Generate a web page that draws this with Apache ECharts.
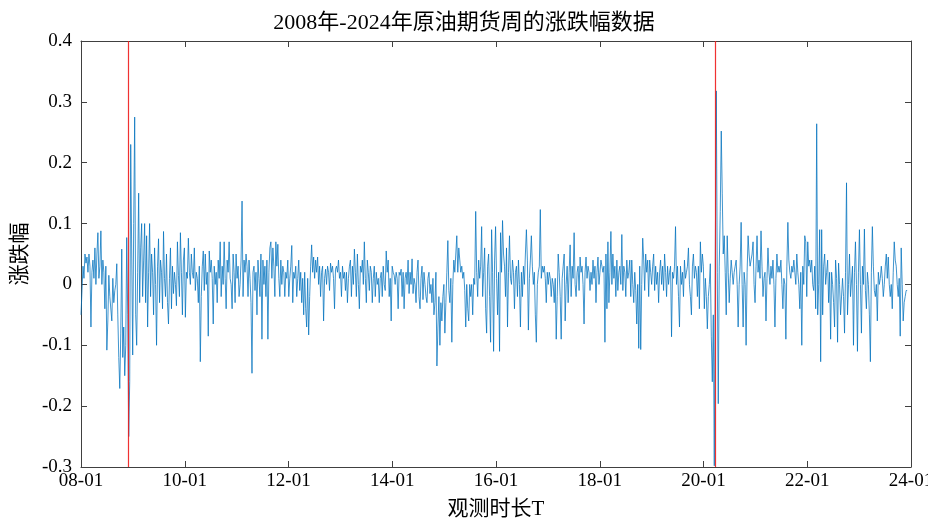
<!DOCTYPE html>
<html><head><meta charset="utf-8">
<script src="https://cdn.jsdelivr.net/npm/echarts@6/dist/echarts.min.js"></script>
<style>html,body{margin:0;padding:0;background:#fff}#c{width:928px;height:518px}</style>
</head><body><div id="c"></div>
<script>
const titleText = '2008年-2024年原油期货周的涨跌幅数据';
const xName = '观测时长T';
const yName = '涨跌幅';
const startYear = 2008;           // first weekly observation (start of 2008)
const weekInYears = 7 / 365.25;   // weekly sampling step
const breakYears = [2008.925, 2020.222];  // red vertical break lines
const xTickLabels = ['08-01','10-01','12-01','14-01','16-01','18-01','20-01','22-01','24-01'];
const yTickValues = [-0.3,-0.2,-0.1,0,0.1,0.2,0.3,0.4];

const weeklyChange = [
-0.05,-0.01,0.03,0.01,0.05,0.035,0.045,0.02,0.05,0.03,
-0.07,0.02,0.04,0.01,0.06,0.0,0.05,0.085,0.01,0.03,
0.088,0.0,0.04,0.02,-0.04,0.03,-0.108,-0.06,0.015,-0.02,
-0.02,-0.06,0.01,-0.03,-0.01,0.0,0.034,-0.05,-0.12,-0.171,
-0.08,0.058,-0.12,-0.07,-0.15,-0.1,0.077,-0.05,-0.25,-0.16,
0.23,0.05,-0.116,0.1,0.275,-0.05,-0.1,0.02,0.15,-0.03,
0.06,0.1,-0.02,0.04,0.1,-0.03,0.08,-0.07,0.02,0.1,
-0.02,0.05,0.02,-0.05,0.06,0.0,-0.1,0.03,0.075,-0.03,
0.04,0.02,-0.04,0.087,0.01,-0.02,0.05,-0.03,-0.065,0.01,
0.06,-0.04,0.03,-0.015,0.02,0.0,-0.035,0.07,0.015,-0.02,
0.085,0.02,-0.05,0.04,0.06,-0.054,0.02,0.01,0.076,0.02,
0.0,0.05,0.02,0.01,0.06,-0.01,0.02,0.01,-0.03,0.03,
-0.127,-0.02,0.03,0.055,-0.01,0.05,0.0,0.02,-0.085,0.055,
0.02,0.04,0.01,-0.065,0.03,0.0,0.02,-0.03,0.04,0.01,
0.07,-0.02,0.03,0.0,0.07,0.01,-0.04,0.04,0.02,0.07,0.01,
0.0,-0.04,0.05,0.02,-0.03,0.05,0.01,0.03,-0.02,0.0,
0.04,0.137,-0.02,0.04,0.02,0.05,0.03,-0.02,0.04,0.01,
-0.03,-0.146,0.02,0.03,-0.01,0.02,-0.05,0.04,0.01,-0.02,
0.05,-0.09,0.04,0.0,0.03,-0.02,0.04,-0.09,0.02,0.06,
0.07,0.01,0.06,0.03,-0.02,0.07,0.03,0.066,0.01,-0.02,
0.04,0.0,0.03,0.02,-0.02,0.02,0.01,0.04,-0.02,0.01,
0.03,0.064,-0.03,0.02,0.01,0.03,-0.02,0.01,0.04,-0.01,
0.02,-0.03,0.01,-0.05,0.02,-0.04,-0.07,0.01,-0.083,-0.02,
0.03,0.065,0.02,0.045,0.01,0.04,0.02,0.045,0.0,0.03,
-0.02,0.02,0.03,-0.06,0.01,0.025,0.0,0.03,0.02,-0.01,
0.035,0.02,0.03,0.01,-0.04,0.025,0.03,0.02,0.04,0.01,
0.02,-0.02,0.03,0.01,0.02,-0.01,0.02,-0.03,0.01,0.03,
0.04,-0.02,0.03,0.0,0.058,0.02,-0.02,0.05,0.0,-0.04,
0.03,0.02,0.04,0.0,0.07,0.01,-0.03,0.04,0.02,-0.01,
0.03,0.02,-0.03,0.01,0.03,-0.02,0.02,0.0,0.01,-0.03,
0.01,0.02,-0.02,0.03,0.0,-0.01,0.055,0.02,0.04,-0.02,0.01,
-0.06,0.03,0.02,0.015,0.0,0.02,0.01,-0.04,0.02,0.015,
0.025,-0.02,0.02,-0.04,0.01,0.02,0.0,0.04,-0.015,0.02,
0.0,0.042,-0.015,0.01,0.0,-0.03,0.02,0.04,-0.02,-0.04,
0.01,0.03,-0.025,0.02,0.0,-0.02,-0.03,0.01,0.02,-0.015,
0.0,-0.03,0.01,-0.05,-0.03,0.02,-0.134,-0.07,-0.02,-0.1,
-0.03,-0.06,-0.02,0.0,-0.08,-0.03,0.02,0.072,-0.01,-0.03,
0.01,-0.095,0.0,0.04,0.02,0.05,0.08,0.02,0.06,0.04,
0.02,0.03,0.01,0.02,-0.01,-0.07,0.0,-0.04,-0.06,0.0,
-0.02,0.0,-0.05,0.01,0.0,0.12,0.02,-0.02,0.04,0.01,
0.03,0.095,-0.02,0.02,0.06,-0.04,-0.08,0.03,0.05,-0.02,
-0.095,0.09,0.02,-0.11,0.04,0.095,0.01,-0.05,0.02,-0.11,
0.085,0.02,0.105,0.05,0.03,-0.02,0.06,-0.07,0.02,0.08,
0.01,0.0,0.04,0.02,-0.04,0.02,0.03,-0.02,0.04,0.0,
-0.07,0.02,-0.02,0.03,0.0,0.05,0.09,0.04,-0.075,0.01,
0.04,0.08,0.03,0.0,0.02,-0.05,-0.095,0.0,0.02,0.03,
0.123,0.01,0.03,0.02,0.03,0.01,-0.03,0.02,0.0,0.02,0.01,
-0.02,0.01,0.0,-0.03,0.01,-0.09,-0.02,0.05,0.02,-0.02,
-0.09,0.01,0.03,0.05,-0.06,0.0,0.03,-0.03,0.02,0.065,
-0.02,0.03,0.01,0.085,0.0,-0.02,0.02,0.03,-0.01,0.045,
0.02,0.03,0.0,-0.065,0.02,0.045,0.01,0.03,0.02,-0.01,
0.02,0.0,0.04,0.01,0.03,-0.03,0.02,0.045,0.0,0.02,
0.04,0.03,0.02,0.03,-0.095,0.05,-0.04,0.07,-0.03,0.02,
0.087,0.0,0.05,0.01,0.03,-0.02,0.04,-0.01,0.02,0.03,
0.0,0.082,-0.01,0.03,0.02,-0.02,0.04,0.01,0.02,0.04,
-0.02,0.04,0.0,-0.03,0.02,-0.01,-0.065,0.0,-0.105,0.03,
-0.107,0.0,0.076,0.04,-0.01,0.05,0.02,0.04,-0.02,0.04,
0.02,0.0,0.03,0.05,-0.01,0.03,0.0,0.02,-0.03,0.02,
0.04,0.0,0.03,-0.01,0.05,0.02,-0.02,0.03,0.0,0.02,
0.03,-0.086,0.02,0.01,0.03,0.095,0.0,0.03,-0.02,-0.07,
0.03,0.0,0.02,-0.02,0.04,0.01,0.02,0.03,0.06,0.0,-0.02,
-0.05,0.03,0.05,0.01,0.03,0.02,-0.02,0.03,-0.04,0.07,
0.02,0.05,0.03,-0.04,0.01,-0.02,-0.073,-0.02,0.0,0.034,
-0.085,-0.16,-0.05,-0.298,0.05,0.318,0.02,-0.196,0.03,0.12,
0.252,0.15,0.05,0.08,0.02,-0.05,0.08,0.02,-0.03,0.01,
0.04,0.02,0.0,0.02,0.03,0.04,0.0,-0.07,0.0,0.03,
0.102,0.0,-0.07,0.02,0.0,-0.1,0.02,0.08,0.05,0.03,
0.03,0.05,0.07,0.0,-0.03,0.03,0.08,0.02,0.04,0.01,
0.088,0.03,-0.02,0.01,0.02,-0.06,0.01,0.06,0.02,0.0,
0.03,0.01,0.04,0.0,-0.07,0.01,0.05,0.02,0.03,0.02,
0.04,0.0,-0.04,0.01,0.0,-0.09,0.03,0.102,0.04,0.02,
0.01,0.03,0.02,0.04,0.02,0.0,0.05,0.02,0.0,-0.04,
0.02,-0.1,0.03,0.0,0.08,0.07,-0.02,0.07,0.03,0.04,
0.02,0.04,0.0,-0.01,0.03,-0.04,0.264,-0.05,0.0,0.09,
-0.127,0.09,-0.05,0.03,0.05,0.0,0.02,0.04,-0.03,0.02,
-0.09,0.02,0.0,-0.03,-0.07,0.04,0.01,-0.095,0.035,0.0,
-0.05,-0.05,0.01,-0.02,-0.08,0.02,0.167,-0.05,0.0,0.05,-0.02,
-0.02,0.03,-0.1,0.02,0.07,0.0,-0.11,0.02,0.09,0.0,
-0.08,0.03,0.0,0.091,-0.01,-0.04,0.02,0.0,-0.05,-0.127,
0.02,0.095,0.03,-0.01,-0.02,0.0,-0.06,0.02,0.0,0.01,
0.03,0.01,-0.02,0.0,0.03,0.05,0.01,0.045,0.0,-0.02,
0.0,-0.04,0.02,0.07,0.04,0.03,0.0,-0.02,0.01,-0.085,
0.06,0.0,-0.06,-0.03,-0.02,-0.01,-0.01
];

const FONT = '"Liberation Serif", "Noto Sans CJK SC", serif';
const AX = '#404040';
const chart = echarts.init(document.getElementById('c'), null, {renderer: 'canvas'});

const seriesData = weeklyChange.map((v, i) => [startYear + i * weekInYears, v]);
const xMin = 2008, xMax = 2024, xStep = 2;
const yMin = yTickValues[0], yMax = yTickValues[yTickValues.length - 1];

function xLabel(v) {
  const k = Math.round((v - xMin) / xStep);
  return xTickLabels[k] || '';
}
function yLabel(v) {
  if (Math.abs(v) < 1e-9) return '0';
  return (Math.round(v * 10) / 10).toFixed(1);
}

const baseX = {
  type: 'value', min: xMin, max: xMax, interval: xStep,
  splitLine: {show: false},
  axisLine: {show: true, onZero: false, lineStyle: {color: AX, width: 1}},
  axisTick: {show: true, inside: true, length: 6, lineStyle: {color: AX}},
};
const baseY = {
  type: 'value', min: yMin, max: yMax, interval: 0.1,
  splitLine: {show: false},
  axisLine: {show: true, onZero: false, lineStyle: {color: AX, width: 1}},
  axisTick: {show: true, inside: true, length: 6, lineStyle: {color: AX}},
};

chart.setOption({
  animation: false,
  backgroundColor: '#ffffff',
  title: {
    text: titleText, left: 'center', top: 7,
    textStyle: {fontFamily: FONT, fontSize: 22, fontWeight: 'normal', color: '#000'}
  },
  grid: {left: 81, right: 17, top: 41, bottom: 51, containLabel: false, outerBoundsMode: 'none'},
  xAxis: [
    Object.assign({}, baseX, {
      position: 'bottom',
      name: xName, nameLocation: 'middle', nameGap: 32,
      nameTextStyle: {fontFamily: FONT, fontSize: 21, color: '#000'},
      axisLabel: {formatter: xLabel, fontFamily: FONT, fontSize: 19, color: '#000', margin: 5}
    }),
    Object.assign({}, baseX, {position: 'top', axisLabel: {show: false}})
  ],
  yAxis: [
    Object.assign({}, baseY, {
      position: 'left',
      name: yName, nameLocation: 'middle', nameGap: 49, nameRotate: 90,
      nameTextStyle: {fontFamily: FONT, fontSize: 21, color: '#000'},
      axisLabel: {formatter: yLabel, fontFamily: FONT, fontSize: 19, color: '#000', margin: 9}
    }),
    Object.assign({}, baseY, {position: 'right', axisLabel: {show: false}})
  ],
  series: [{
    type: 'line',
    data: seriesData,
    showSymbol: false,
    symbol: 'none',
    lineStyle: {color: '#0072BD', width: 0.75},
    z: 3
  }, {
    type: 'line',
    data: [],
    z: 5,
    markLine: {
      silent: true,
      symbol: ['none', 'none'],
      label: {show: false},
      lineStyle: {color: '#ee1c1c', width: 1.2, type: 'solid', opacity: 0.9},
      data: breakYears.map(t => ({xAxis: t}))
    }
  }]
});
</script>
</body></html>
